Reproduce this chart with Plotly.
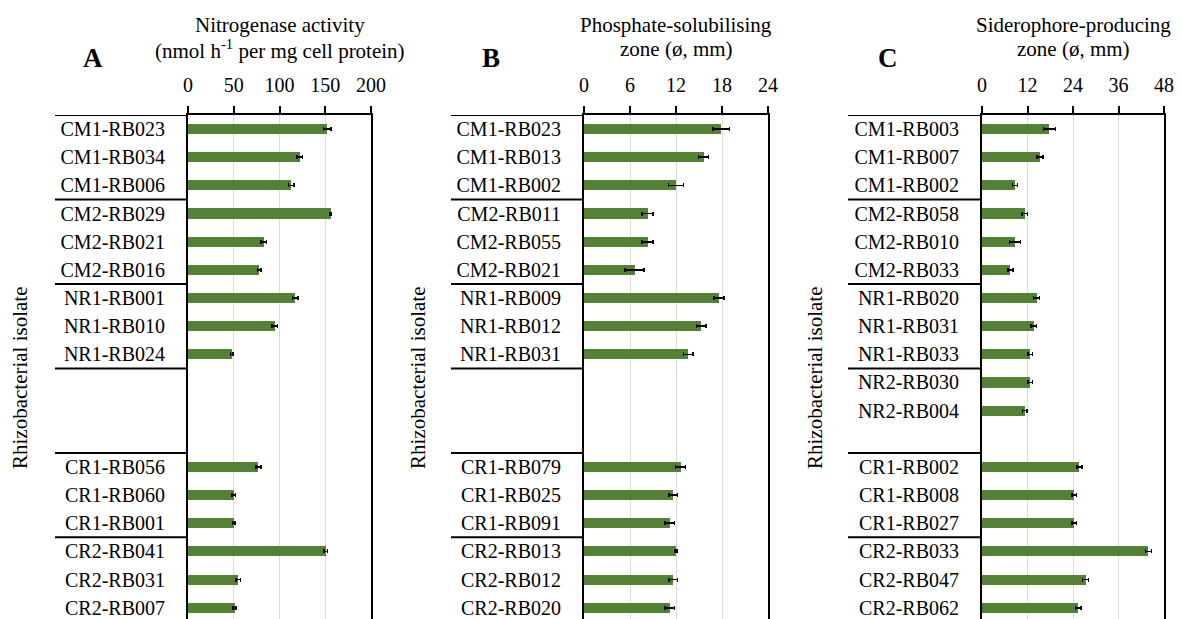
import plotly.graph_objects as go

# ---------------- data ----------------
# Panel A: nitrogenase activity (nmol h-1 per mg cell protein)
a_groups = [
    ["CM1-RB023", "CM1-RB034", "CM1-RB006"],
    ["CM2-RB029", "CM2-RB021", "CM2-RB016"],
    ["NR1-RB001", "NR1-RB010", "NR1-RB024"],
    [],
    ["CR1-RB056", "CR1-RB060", "CR1-RB001"],
    ["CR2-RB041", "CR2-RB031", "CR2-RB007"],
]
a_values = [152, 122, 113, 156, 83, 78, 117, 95, 48, 77, 50, 50, 150.5, 55, 51]
a_errors = [4, 3, 3, 1, 3, 2, 3, 3, 1.5, 3, 2, 1.5, 2, 2.5, 1.5]

# Panel B: phosphate-solubilising zone (mm)
b_groups = [
    ["CM1-RB023", "CM1-RB013", "CM1-RB002"],
    ["CM2-RB011", "CM2-RB055", "CM2-RB021"],
    ["NR1-RB009", "NR1-RB012", "NR1-RB031"],
    [],
    ["CR1-RB079", "CR1-RB025", "CR1-RB091"],
    ["CR2-RB013", "CR2-RB012", "CR2-RB020"],
]
b_values = [17.9, 15.6, 12.0, 8.3, 8.3, 6.6, 17.6, 15.3, 13.6, 12.6, 11.65, 11.2, 12.0, 11.65, 11.2]
b_errors = [1.1, 0.65, 1.0, 0.7, 0.7, 1.25, 0.65, 0.65, 0.6, 0.65, 0.55, 0.6, 0.1, 0.55, 0.6]

# Panel C: siderophore-producing zone (mm)
c_groups = [
    ["CM1-RB003", "CM1-RB007", "CM1-RB002"],
    ["CM2-RB058", "CM2-RB010", "CM2-RB033"],
    ["NR1-RB020", "NR1-RB031", "NR1-RB033"],
    ["NR2-RB030", "NR2-RB004"],
    ["CR1-RB002", "CR1-RB008", "CR1-RB027"],
    ["CR2-RB033", "CR2-RB047", "CR2-RB062"],
]
c_values = [17.8, 15.3, 8.7, 11.3, 8.7, 7.5, 14.4, 13.7, 12.7, 12.7, 11.3, 25.7, 24.3, 24.3, 43.9, 27.3, 25.4]
c_errors = [1.6, 0.8, 0.7, 0.7, 1.4, 0.7, 0.8, 0.7, 0.6, 0.6, 0.6, 0.7, 0.6, 0.6, 0.8, 0.8, 0.7]

a_ticks = [0, 50, 100, 150, 200]
b_ticks = [0, 6, 12, 18, 24]
c_ticks = [0, 12, 24, 36, 48]

a_title = ["Nitrogenase activity", "(nmol h<sup>-1</sup> per mg cell protein)"]
b_title = ["Phosphate-solubilising", "zone (ø, mm)"]
c_title = ["Siderophore-producing", "zone (ø, mm)"]
y_title = "Rhizobacterial isolate"
panel_letters = ["A", "B", "C"]

# ---------------- layout helpers ----------------
W, H = 1181, 619
FONT = "Liberation Serif, Times New Roman, serif"
GREEN = "#548235"
SLOTS_PER_GROUP = 3

def px(x):
    return x / W

def py(y):
    return 1 - y / H

panels = [
    dict(groups=a_groups, values=a_values, errors=a_errors, ticks=a_ticks, title=a_title,
         x0=188, x1=371, lab_left=55, ytitle_x=20, letter_x=93),
    dict(groups=b_groups, values=b_values, errors=b_errors, ticks=b_ticks, title=b_title,
         x0=584, x1=768, lab_left=451, ytitle_x=418, letter_x=491),
    dict(groups=c_groups, values=c_values, errors=c_errors, ticks=c_ticks, title=c_title,
         x0=982, x1=1164, lab_left=848, ytitle_x=815, letter_x=888),
]

TOP = 115
n_slots = SLOTS_PER_GROUP * len(a_groups)
y_range = [n_slots - 0.6, -0.5]

fig = go.Figure()
annotations = []
shapes = []

for k, p in enumerate(panels):
    sfx = "" if k == 0 else str(k + 1)
    labels, pos = [], []
    for g, grp in enumerate(p["groups"]):
        for i, name in enumerate(grp):
            labels.append(name)
            pos.append(SLOTS_PER_GROUP * g + i)

    fig.add_trace(go.Bar(
        x=p["values"], y=pos, orientation="h",
        marker=dict(color=GREEN, line=dict(width=0)),
        width=0.36,
        error_x=dict(type="data", array=p["errors"], visible=True,
                     color="black", thickness=1.6, width=2),
        xaxis="x" + sfx, yaxis="y" + sfx, showlegend=False,
        customdata=labels, textposition="none",
        hovertemplate="%{customdata}: %{x}<extra></extra>",
    ))

    fig.layout["xaxis" + sfx] = dict(
        domain=[px(p["x0"]), px(p["x1"])], anchor="y" + sfx, side="top",
        range=[p["ticks"][0], p["ticks"][-1]], tickvals=p["ticks"],
        ticks="outside", ticklen=7, tickwidth=1.5, tickcolor="black",
        showline=True, linecolor="black", linewidth=2,
        showgrid=True, gridcolor="#dcdcdc", gridwidth=1, zeroline=False,
        tickfont=dict(family=FONT, size=20, color="black"),
        ticklabelstandoff=6, fixedrange=True,
    )
    fig.layout["yaxis" + sfx] = dict(
        domain=[0, py(TOP)], anchor="x" + sfx,
        range=y_range, tickvals=pos, ticktext=labels,
        ticks="", showline=True, linecolor="black", linewidth=2, mirror=True,
        showgrid=False, zeroline=False,
        tickfont=dict(family=FONT, size=20, color="black"),
        ticklabelstandoff=17, fixedrange=True,
    )

    # group separators in the label area
    for g in range(len(p["groups"])):
        yb = SLOTS_PER_GROUP * g - 0.5
        shapes.append(dict(type="line", xref="paper", yref="y" + sfx,
                           x0=px(p["lab_left"]), x1=px(p["x0"]), y0=yb, y1=yb,
                           line=dict(color="black", width=2)))

    cx = (p["x0"] + p["x1"]) / 2
    for li, (line, yy) in enumerate(zip(p["title"], [25, 49])):
        annotations.append(dict(text=line, xref="paper", yref="paper", x=px(cx), y=py(yy),
                                xanchor="center", yanchor="middle", showarrow=False,
                                font=dict(family=FONT, size=21, color="black")))
    annotations.append(dict(text="<b>" + panel_letters[k] + "</b>", xref="paper", yref="paper",
                            x=px(p["letter_x"]), y=py(58), xanchor="center", yanchor="middle",
                            showarrow=False, font=dict(family=FONT, size=27, color="black")))
    annotations.append(dict(text=y_title, xref="paper", yref="paper",
                            x=px(p["ytitle_x"]), y=py(378), textangle=-90,
                            xanchor="center", yanchor="middle", showarrow=False,
                            font=dict(family=FONT, size=21, color="black")))

fig.update_layout(
    width=W, height=H, autosize=False, margin=dict(l=0, r=0, t=0, b=0, autoexpand=False),
    paper_bgcolor="white", plot_bgcolor="white",
    annotations=annotations, shapes=shapes, bargap=0,
)

fig.write_html(
    "out.html",
    config={"responsive": False, "displayModeBar": False},
    post_script="document.body.style.margin='0';document.body.style.overflow='hidden';",
)
